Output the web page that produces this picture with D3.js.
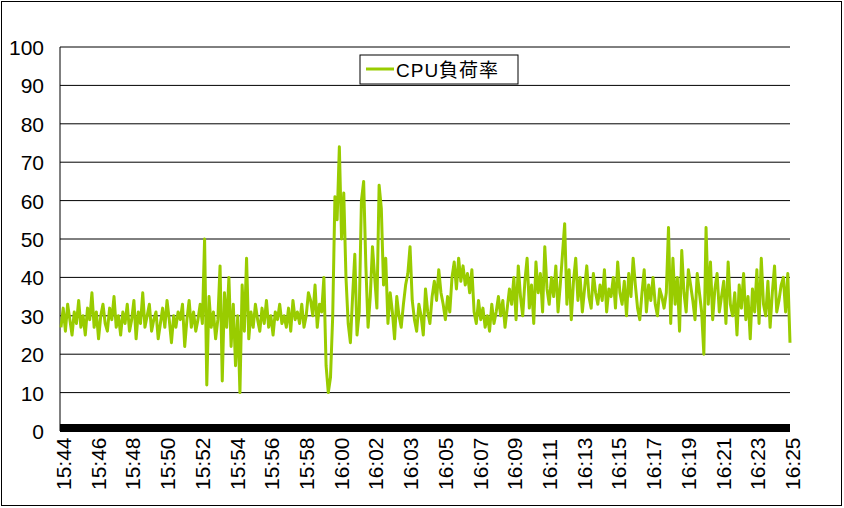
<!DOCTYPE html>
<html><head><meta charset="utf-8">
<script src="https://cdn.jsdelivr.net/npm/d3@7"></script>
<style>body{margin:0;background:#fff}</style>
</head><body>
<svg id="c" width="844" height="508"></svg>
<script>
const seriesName = "CPU負荷率";
const yTicks = [0,10,20,30,40,50,60,70,80,90,100];
const xLabels = ["15:44","15:46","15:48","15:50","15:52","15:54","15:56","15:58","16:00","16:02","16:03","16:05","16:07","16:09","16:11","16:13","16:15","16:17","16:19","16:21","16:23","16:25"];
const cpu = [
27,32,26,33,29,25,31,28,34,27,30,25,32,29,36,27,31,24,30,33,28,26,32,29,35,27,30,25,31,28,
33,26,29,34,24,31,28,36,27,30,33,26,29,31,24,28,32,27,34,29,23,30,27,31,29,33,
22,29,34,27,31,26,29,33,28,50,12,35,27,31,24,29,43,13,36,27,40,22,33,17,30,10,38,26,45,24,
31,27,33,29,26,32,28,34,27,30,25,31,29,33,28,30,27,32,26,34,29,31,28,33,27,30,36,
34,30,38,27,33,31,40,17,10,14,30,61,55,74,50,62,40,28,23,35,46,25,31,60,65,43,27,35,48,40,
32,64,58,38,45,28,36,31,24,35,30,27,33,38,41,48,34,29,26,33,30,25,37,31,28,35,39,34,42,36,
33,29,35,31,
40,44,37,45,39,43,38,41,36,42,31,28,34,29,32,27,30,26,33,28,31,35,30,34,27,32,37,33,40,29,
43,35,30,39,45,32,38,28,44,36,41,31,48,37,33,40,35,43,31,38,46,54,33,42,29,39,45,34,40,31,
37,43,35,32,41,36,33,38,34,42,31,37,35,40,32,44,36,33,39,30,41,35,45,38,32,29,36,42,31,38,
34,40,33,30,37,35,32,36,53,28,45,33,40,26,47,36,31,42,38,34,29,41,36,31,20,53,33,44,29,37,
41,31,35,39,28,44,33,30,36,25,38,32,41,29,35,24,37,31,42,28,45,33,30,39,27,36,43,31,34,38,
40,31,41,23
];
const svg = d3.select("#c");
svg.append("rect").attr("x",1.5).attr("y",1.5).attr("width",840).attr("height",504).attr("fill","#fff").attr("stroke","#000").attr("stroke-width",1);
const L=60,R=790,T=47,B=431;
const y=d3.scaleLinear().domain([0,100]).range([B,T]);
const x=d3.scaleLinear().domain([0,cpu.length-1]).range([L+1,R]);
const xl=d3.scalePoint().domain(xLabels).range([L+3,R+2]);
const g=svg.append("g");
g.selectAll("line.gr").data(yTicks.filter(d=>d>0)).join("line").attr("x1",L).attr("x2",R).attr("y1",d=>y(d)).attr("y2",d=>y(d)).attr("stroke","#000").attr("stroke-width",1);
g.append("line").attr("x1",L).attr("x2",L).attr("y1",T).attr("y2",B).attr("stroke","#000");
g.selectAll("text.yt").data(yTicks).join("text").attr("x",44).attr("y",d=>y(d)+8).attr("text-anchor","end")
 .attr("font-family","Liberation Sans, Arial, sans-serif").attr("font-size",21).text(d=>d);
g.append("path").datum(cpu).attr("fill","none").attr("stroke","#99cc00").attr("stroke-width",3).attr("stroke-linejoin","round")
 .attr("d",d3.line().x((d,i)=>x(i)).y(d=>y(d)));
g.append("rect").attr("x",L).attr("y",B-7).attr("width",R-L).attr("height",8).attr("fill","#000");
g.selectAll("text.xt").data(xLabels).join("text").attr("transform",d=>`translate(${xl(d)+8},490) rotate(-90)`)
 .attr("font-family","Liberation Sans, Arial, sans-serif").attr("font-size",21).text(d=>d);
const lg=svg.append("g");
lg.append("rect").attr("x",360).attr("y",55).attr("width",158).attr("height",29).attr("fill","#fff").attr("stroke","#000");
lg.append("line").attr("x1",366).attr("x2",394).attr("y1",69).attr("y2",69).attr("stroke","#99cc00").attr("stroke-width",3);
lg.append("text").attr("x",396).attr("y",77).attr("font-family","Liberation Sans, Noto Sans CJK JP, sans-serif").attr("font-size",19).attr("letter-spacing",1).text(seriesName);
</script>
</body></html>
